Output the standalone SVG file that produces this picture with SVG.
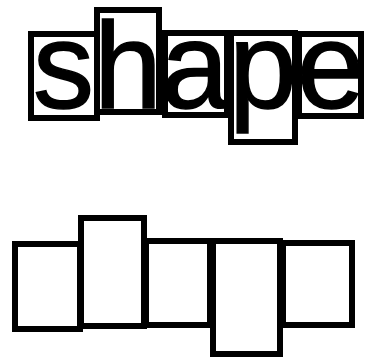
<svg xmlns="http://www.w3.org/2000/svg" width="372" height="358" viewBox="0 0 372 358">
<style>
.b{fill:none;stroke:#000;stroke-width:6}
.t{font-family:"Liberation Sans",Arial,sans-serif;font-size:122px;fill:#000;stroke:#000;stroke-width:1.5}
</style>
<rect width="372" height="358" fill="#fff"/>
<g id="word">
<g id="box-s"><rect class="b" x="31" y="34" width="66" height="84"/><text class="t" x="33" y="108">s</text></g>
<g id="box-h"><rect class="b" x="97" y="10" width="62" height="102"/><text class="t" x="94" y="108">h</text></g>
<g id="box-a"><rect class="b" x="165" y="33" width="62" height="82"/><text class="t" x="161" y="108">a</text></g>
<g id="box-p"><rect class="b" x="231" y="33" width="64" height="109"/><text class="t" x="229" y="108">p</text></g>
<g id="box-e"><rect class="b" x="299" y="34" width="62" height="82"/><text class="t" x="297" y="108">e</text></g>
</g>
<g id="outline">
<g id="o1"><rect class="b" x="15" y="244" width="65" height="85"/></g>
<g id="o2"><rect class="b" x="81" y="218" width="63" height="108"/></g>
<g id="o3"><rect class="b" x="146" y="241" width="64" height="84"/></g>
<g id="o4"><rect class="b" x="213" y="241" width="67" height="113"/></g>
<g id="o5"><rect class="b" x="283" y="243" width="69" height="82"/></g>
</g>
</svg>
